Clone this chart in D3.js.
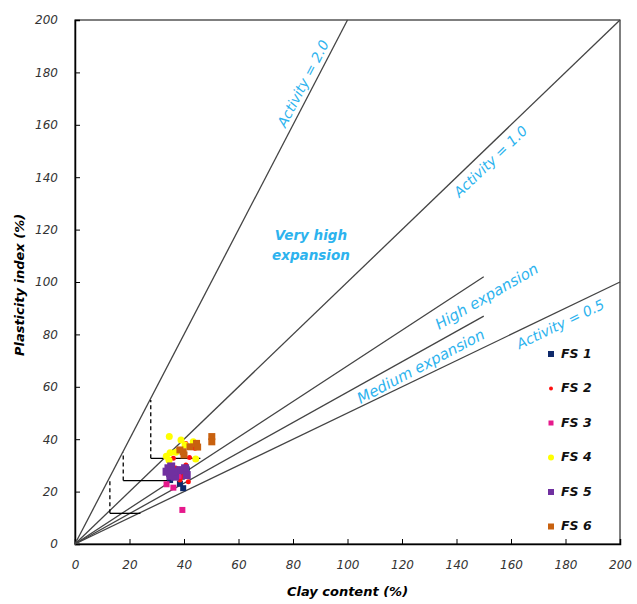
<!DOCTYPE html>
<html><head><meta charset="utf-8">
<script src="https://cdn.jsdelivr.net/npm/d3@7"></script>
<style>body{margin:0;background:#fff}svg{display:block}</style>
</head><body>
<svg id="c" width="637" height="604"></svg>
<script>
const ticksX = [0,20,40,60,80,100,120,140,160,180,200];
const ticksY = [0,20,40,60,80,100,120,140,160,180,200];
const seriesNames = ["FS 1","FS 2","FS 3","FS 4","FS 5","FS 6"];
const seriesColors = ["#0f2a6b","#ff1010","#e6198c","#ffff00","#7030a0","#c8610f"];
const seriesShapes = ["square","circle","square","circle","square","square"];
const FS1 = [[39.7,21.3],[37.9,27.6],[34.9,24.4],[39.2,25.7],[41,28.5],[36,26],[38.5,23]];
const FS2 = [[36.1,32.7],[40.7,30.2],[39.7,25.7],[41.6,23.8],[38.5,24.4],[44,36.5],[40.7,38.4],[38,36],[42,33],[37,29],[40,27]];
const FS3 = [[33.6,22.8],[36.1,21.5],[39.4,13],[38,26]];
const FS4 = [[34.6,41],[38.9,39.7],[43.4,39],[34.9,34.8],[34.5,32],[44.3,32.4],[40.4,37.8],[33.5,33.5],[37,35]];
const FS5 = [[34.3,28.9],[34.9,27],[33.6,27.6],[36.7,25.7],[40.4,28.9],[41,26.3],[38.5,28.2],[35.3,29.6],[36,27.5],[35,26]];
const FS6 = [[50.2,41],[50.2,39],[44.6,38.4],[38.5,35.9],[39.7,35.2],[42.2,37.1],[40,34],[45,37]];
const seriesData = [FS1,FS2,FS3,FS4,FS5,FS6];
// boundary lines [x1,y1,x2,y2]
const boundaryLines = [[0,0,100,200],[0,0,200,200],[0,0,200,100],[0,0,150,102],[0,0,150,87]];
// dashed verticals and solid horizontals
const dashedSegs = [[27.8,32.7,27.8,55],[17.7,24.2,17.7,35],[12.8,11.7,12.8,24.5]];
const solidSegs = [[27.8,32.7,46,32.7],[17.7,24.2,34,24.2],[12.8,11.7,24,11.7]];
// annotations: text, x, y, slope for angle, size
const labels = [
  ["Activity = 2.0",84,175.6,2,14],
  ["Activity = 1.0",152.7,145.8,1,14],
  ["Activity = 0.5",178.3,83.6,0.5,14],
  ["High expansion",151.2,94.3,0.6,15],
  ["Medium expansion",127,67.6,0.55,15]
];
const veryHigh = [["Very high",86.6,117.4],["expansion",86.6,109.8]];

const svg = d3.select("#c");
const x = d3.scaleLinear([0,200],[75,620]);
const y = d3.scaleLinear([0,200],[544,20]);
const font = "'DejaVu Sans', sans-serif";
const blue = "#2db3ee";

svg.append("rect").attr("x",x(0)).attr("y",y(200)).attr("width",x(200)-x(0)).attr("height",y(0)-y(200))
  .attr("fill","none").attr("stroke","#000").attr("stroke-width",1);

const gx = svg.append("g").attr("transform",`translate(0,${y(0)})`)
  .call(d3.axisBottom(x).tickValues(ticksX).tickSize(-5).tickPadding(16).tickFormat(d3.format("d")));
const gy = svg.append("g").attr("transform",`translate(${x(0)},0)`)
  .call(d3.axisLeft(y).tickValues(ticksY).tickSize(-5).tickPadding(17).tickFormat(d3.format("d")));
[gx,gy].forEach(g=>{
  g.select(".domain").attr("stroke","#000").attr("stroke-width",1.5);
  g.selectAll(".tick line").attr("stroke","#000");
  g.selectAll(".tick text").attr("font-family",font).attr("font-style","italic")
   .attr("font-size",12).attr("fill","#333");
});

svg.append("g").selectAll("line").data(boundaryLines).join("line")
  .attr("x1",d=>x(d[0])).attr("y1",d=>y(d[1])).attr("x2",d=>x(d[2])).attr("y2",d=>y(d[3]))
  .attr("stroke","#444").attr("stroke-width",1.3);
svg.append("g").selectAll("line").data(dashedSegs).join("line")
  .attr("x1",d=>x(d[0])).attr("y1",d=>y(d[1])).attr("x2",d=>x(d[2])).attr("y2",d=>y(d[3]))
  .attr("stroke","#000").attr("stroke-width",1.3).attr("stroke-dasharray","4,3");
svg.append("g").selectAll("line").data(solidSegs).join("line")
  .attr("x1",d=>x(d[0])).attr("y1",d=>y(d[1])).attr("x2",d=>x(d[2])).attr("y2",d=>y(d[3]))
  .attr("stroke","#000").attr("stroke-width",1.3);

const pxRatio = (y(0)-y(1))/(x(1)-x(0));
svg.append("g").selectAll("text").data(labels).join("text")
  .attr("transform",d=>`translate(${x(d[1])},${y(d[2])}) rotate(${-Math.atan(d[3]*pxRatio)*180/Math.PI})`)
  .attr("text-anchor","middle").attr("dominant-baseline","middle")
  .attr("font-family",font).attr("font-style","italic").attr("font-size",d=>d[4])
  .attr("fill",blue).text(d=>d[0]);
svg.append("g").selectAll("text").data(veryHigh).join("text")
  .attr("x",d=>x(d[1])).attr("y",d=>y(d[2])).attr("text-anchor","middle").attr("dominant-baseline","middle")
  .attr("font-family",font).attr("font-style","italic").attr("font-weight","bold").attr("font-size",13.5)
  .attr("fill",blue).text(d=>d[0]);

function marker(g, shape, color, size){
  if(shape==="square") g.append("rect").attr("x",-size/2).attr("y",-size/2).attr("width",size).attr("height",size).attr("fill",color);
  else g.append("circle").attr("r",size/2).attr("fill",color);
}
const sizes = [6,5,6,7,8,7];
seriesData.forEach((data,i)=>{
  const g = svg.append("g");
  data.forEach(p=>{
    const m = g.append("g").attr("transform",`translate(${x(p[0])},${y(p[1])})`);
    marker(m, seriesShapes[i], seriesColors[i], sizes[i]);
  });
});

const legSizes = [6,4,5,6,6,6];
const leg = svg.append("g");
seriesNames.forEach((n,i)=>{
  const gy0 = 354 + i*34.5;
  const m = leg.append("g").attr("transform",`translate(551,${gy0})`);
  marker(m, seriesShapes[i], seriesColors[i], legSizes[i]);
  leg.append("text").attr("x",561).attr("y",gy0).attr("dominant-baseline","middle")
    .attr("font-family",font).attr("font-style","italic").attr("font-weight","bold").attr("font-size",12.5)
    .attr("fill","#111").text(n);
});

svg.append("text").attr("x",(x(0)+x(200))/2).attr("y",596).attr("text-anchor","middle")
  .attr("font-family",font).attr("font-style","italic").attr("font-weight","bold").attr("font-size",13)
  .attr("fill","#000").text("Clay content (%)");
svg.append("text").attr("transform",`translate(20,${(y(0)+y(200))/2+3}) rotate(-90)`).attr("text-anchor","middle")
  .attr("dominant-baseline","middle")
  .attr("font-family",font).attr("font-style","italic").attr("font-weight","bold").attr("font-size",13)
  .attr("fill","#000").text("Plasticity index (%)");
</script>
</body></html>
